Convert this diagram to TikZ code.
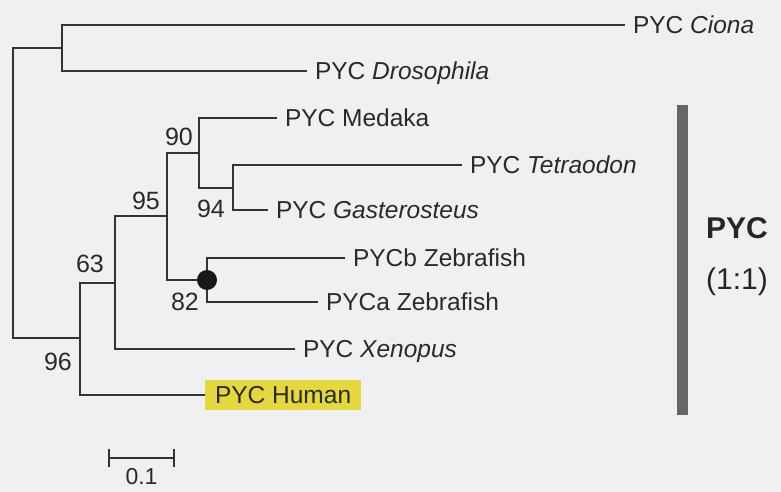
\documentclass[tikz,border=0pt]{standalone}
\usepackage{fontspec}
\setmainfont{Liberation Sans}
\usepackage{tikz}
\usetikzlibrary{positioning,arrows.meta,calc}
\definecolor{paper}{HTML}{EEF0F2}
\definecolor{inkgrey}{HTML}{333333}
\definecolor{txtgrey}{HTML}{2A2A2A}
\definecolor{bargrey}{HTML}{666666}
\definecolor{hiyellow}{HTML}{E4D83C}

\begin{document}
\begin{tikzpicture}[x=1pt, y=-1pt,
    every node/.style={text=txtgrey},
    br/.style={line width=2.2pt, color=inkgrey},                       % branche
    leaf/.style={anchor=west, font=\fontsize{24.5}{28}\selectfont, inner sep=0pt,
                 outer xsep=8pt, text height=17.5pt, text depth=0pt},
    hilite/.style={leaf, fill=hiyellow, inner xsep=10pt, inner ysep=6pt, outer xsep=0pt},
    boot/.style={font=\fontsize{25}{28}\selectfont, inner sep=0pt, text height=18pt, text depth=0pt},
    dup/.style={circle, fill=black!90, inner sep=0pt, minimum size=20pt},
    side/.style={anchor=west, inner sep=0pt, text=black!85}
  ]
  \fill[paper] (0,0) rectangle (781,492);
  \useasboundingbox (0,0) rectangle (781,492);

  % ============ noeuds internes ==========================================
  \coordinate (root) at (13,193);
  \coordinate (nA) at (62,48);
  \coordinate (nB) at (80,338);
  \coordinate (nC) at (115,283);
  \coordinate (nD) at (167,216);
  \coordinate (nE) at (199,153);
  \coordinate (nG) at (233,188);
  \coordinate (nF) at (207,280);

  % ============ feuilles =================================================
  \node[leaf] (ciona)   at (625,25)  {PYC \emph{Ciona}};
  \node[leaf] (droso)   at (307,71)  {PYC \emph{Drosophila}};
  \node[leaf] (medaka)  at (277,118) {PYC Medaka};
  \node[leaf] (tetra)   at (462,165) {PYC \emph{Tetraodon}};
  \node[leaf] (gaster)  at (268,210) {PYC \emph{Gasterosteus}};
  \node[leaf] (zfb)     at (345,258) {PYCb Zebrafish};
  \node[leaf] (zfa)     at (318,302) {PYCa Zebrafish};
  \node[leaf] (xenopus) at (295,349) {PYC \emph{Xenopus}};
  \node[hilite] (human) at (205,395) {PYC Human};

  % ============ branches =================================================
  \draw[br] (root) |- (nA);
  \draw[br] (root) |- (nB);
  \draw[br] (nA) |- (ciona.west);
  \draw[br] (nA) |- (droso.west);
  \draw[br] (nB) |- (nC);
  \draw[br] (nB) |- (human.west);
  \draw[br] (nC) |- (nD);
  \draw[br] (nC) |- (xenopus.west);
  \draw[br] (nD) |- (nE);
  \draw[br] (nD) |- (nF);
  \draw[br] (nE) |- (medaka.west);
  \draw[br] (nE) |- (nG);
  \draw[br] (nG) |- (tetra.west);
  \draw[br] (nG) |- (gaster.west);
  \draw[br] (nF) |- (zfb.west);
  \draw[br] (nF) |- (zfa.west);
  \node[dup] (dupF) at (nF) {};                                      % duplication

  % ============ bootstrap ================================================
  \node[boot] (b96) at (58,361)  {96};
  \node[boot] (b63) at (90,263)  {63};
  \node[boot] (b95) at (146,200) {95};
  \node[boot] (b90) at (179,136) {90};
  \node[boot] (b94) at (211,208) {94};
  \node[boot] (b82) at (185,301) {82};

  % ============ echelle ==================================================
  \coordinate (sbL) at (108,458);
  \coordinate (sbR) at (175,458);
  \draw[br, {Bar[width=18pt]}-{Bar[width=18pt]}] (sbL) -- (sbR);
  \node[font=\fontsize{23}{26}\selectfont, inner sep=0pt, anchor=north] (sblab)
    at ($(sbL)!0.5!(sbR)+(0,10)$) {0.1};

  % ============ groupe orthologue ========================================
  \fill[bargrey] (677,105) rectangle (688,415);
  \node[side, font=\fontsize{30}{34}\selectfont\bfseries] (grp) at (706,228) {PYC};
  \node[side, font=\fontsize{30}{34}\selectfont] (ratio) at (706,282) {(1:1)};

\end{tikzpicture}
\end{document}
